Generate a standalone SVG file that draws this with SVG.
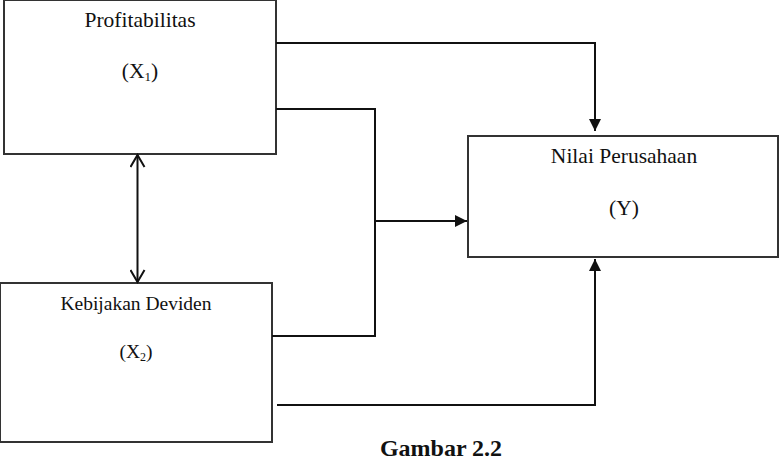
<svg xmlns="http://www.w3.org/2000/svg" width="781" height="470" viewBox="0 0 781 470">
<style>
.box{fill:#fff;stroke:#333;stroke-width:2}
.lbl{font-family:"Liberation Serif","Times New Roman",serif;fill:#111;text-anchor:middle}
.con{fill:none;stroke:#111;stroke-width:2}
</style>
<defs>
<marker id="fill" markerUnits="userSpaceOnUse" viewBox="0 0 12 12" markerWidth="12" markerHeight="12" refX="12" refY="6" orient="auto">
<path d="M0,0 L12,6 L0,12 z" fill="#111"/>
</marker>
<marker id="open" markerUnits="userSpaceOnUse" viewBox="-1 -1 15 16" markerWidth="15" markerHeight="16" refX="12" refY="7" orient="auto-start-reverse">
<path d="M0,0 L12,7 L0,14" fill="none" stroke="#111" stroke-width="2"/>
</marker>
</defs>
<rect width="781" height="470" fill="#fff"/>
<g id="profitabilitas">
<rect class="box" x="4" y="0" width="272" height="154"/>
<text class="lbl" x="140" y="27" font-size="21.5">Profitabilitas</text>
<text class="lbl" x="140" y="78" font-size="21.5">(X<tspan font-size="13" dy="3">1</tspan><tspan dy="-3">)</tspan></text>
</g>
<g id="kebijakan">
<rect class="box" x="0" y="283" width="272" height="159"/>
<text class="lbl" x="136" y="310" font-size="19.5">Kebijakan Deviden</text>
<text class="lbl" x="136" y="358" font-size="19.5">(X<tspan font-size="12" dy="3">2</tspan><tspan dy="-3">)</tspan></text>
</g>
<g id="nilai">
<rect class="box" x="468" y="136" width="310" height="121"/>
<text class="lbl" x="624" y="163" font-size="21.5">Nilai Perusahaan</text>
<text class="lbl" x="624" y="215" font-size="21.5">(Y)</text>
</g>
<text class="lbl" x="441" y="456" font-size="24" font-weight="bold">Gambar 2.2</text>
<g id="connectors">
<line class="con" x1="137.5" y1="155" x2="137.5" y2="282" marker-start="url(#open)" marker-end="url(#open)"/>
<polyline class="con" points="276,43 595,43 595,131" marker-end="url(#fill)"/>
<polyline class="con" points="276,109 375,109 375,336 272,336"/>
<line class="con" x1="375" y1="221" x2="467" y2="221" marker-end="url(#fill)"/>
<polyline class="con" points="277,405 595,405 595,259" marker-end="url(#fill)"/>
</g>
</svg>
